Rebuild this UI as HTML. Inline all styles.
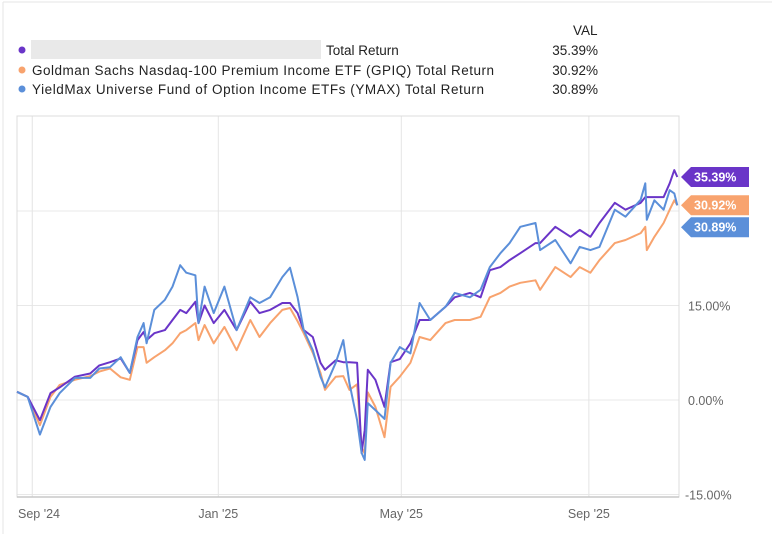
<!DOCTYPE html>
<html><head><meta charset="utf-8">
<style>
body{margin:0;background:#fff;font-family:"Liberation Sans",sans-serif;}
#wrap{position:relative;width:772px;height:534px;overflow:hidden;}
</style></head>
<body>
<div id="wrap">
<svg id="chart" width="772" height="534" xmlns="http://www.w3.org/2000/svg">
  <line x1="3" y1="2" x2="772" y2="2" stroke="#e6e6e6"/>
  <line x1="3" y1="2" x2="3" y2="534" stroke="#e6e6e6"/>
  <g font-size="13.5" fill="#222">
    <text x="573" y="35">VAL</text>
    <circle cx="22" cy="50" r="3.5" fill="#6a35c8"/>
    <rect x="31" y="40" width="290" height="19" fill="#e4e4e4" opacity="0.8"/>
    <text x="326" y="55">Total Return</text>
    <text x="598" y="55" text-anchor="end">35.39%</text>
    <circle cx="22" cy="70" r="3.5" fill="#f8a36e"/>
    <text x="32" y="75" textLength="462">Goldman Sachs Nasdaq-100 Premium Income ETF (GPIQ) Total Return</text>
    <text x="598" y="75" text-anchor="end">30.92%</text>
    <circle cx="22" cy="89" r="3.5" fill="#5b8fd9"/>
    <text x="32" y="94" textLength="452">YieldMax Universe Fund of Option Income ETFs (YMAX) Total Return</text>
    <text x="598" y="94" text-anchor="end">30.89%</text>
  </g>
  <g id="grid"></g>
  <rect x="17" y="116" width="662" height="381" fill="none" stroke="#dcdcdc"/>
  <line x1="17" y1="497" x2="679" y2="497" stroke="#c8c8c8" stroke-width="1.5"/>
  <g id="series"></g>
  <g id="tags"></g>
  <g id="labels" font-size="12.5" fill="#666"></g>
</svg>
</div>
<script>
const days = [0,7,15,22,28,38,48,54,61,68,74,79,83,85,90,97,102,107,111,117,119,123,129,136,144,153,159,166,174,179,184,188,194,199,202,209,214,218,223,226,228,230,235,241,245,251,258,264,271,281,287,297,304,310,317,323,330,340,343,353,363,369,376,382,392,399,409,412,413,418,424,428,431,433];
const purpleVals = [1.3,0.5,-3.2,1.1,2,3.7,4.2,5.5,6,6.6,4.3,9.5,10.8,9.5,10.6,11.1,12.7,14.3,13.8,15.6,12.2,15,12.2,14.3,11.1,15.6,13.8,14.3,15.4,15.4,13.8,11.1,10,5.9,4.8,6.3,6,6,5.9,-8.4,-4.8,4.8,3.2,-1.1,6,6.5,9,12.7,12.7,14.8,16.3,17,16.3,20.6,21.1,22.2,23.3,24.9,24.9,27.5,25.9,27,25.9,28.1,31.3,30.2,31.3,32.2,32.2,32.2,32.2,34.4,36.5,35.39];
const gpiqVals = [1.3,0.5,-4,0.5,2.4,3.2,3.8,4.5,5,3.6,3.2,8.4,8.4,5.9,6.8,7.9,9,10.6,11.1,12.2,9.5,11.9,9,11.6,7.9,12.7,10,12.2,14.3,14.6,12.5,10.6,7.5,4.3,1.6,3.7,3.8,1.6,2.5,-7.5,-8.5,1.2,-1.1,-5.9,2.1,3.7,5.9,10,9.5,12.2,12.7,12.7,13.2,16.3,17,18,18.6,19,17.5,21.1,19.5,21.1,20.2,22.2,24.9,25.4,26.5,27.5,23.8,25.9,28.1,30.2,31.7,30.92];
const ymaxVals = [1.3,0.5,-5.5,-1.1,1.1,3.5,3.5,5,5.2,6.8,4.3,10,12.2,9,14.3,15.9,18,21.4,20.2,19.8,12.2,18,13.8,18,11.1,16.3,15.4,16.3,19.5,21,16.3,11.1,7.9,3.7,2,5.9,9.5,2.7,-3.2,-8.4,-9.5,-0.5,-1.6,-3,5.9,8.4,7.4,15.4,12.7,14.8,17,16.3,17.5,21.1,23.3,24.9,27.5,28.1,23.8,25.4,21.7,24.3,23.8,24.3,30.2,29.1,31.8,34.4,28.6,31.7,30.2,33.3,32.8,30.89];
const yTicks = [-15,0,15,30];
const yTickLabels = ["-15.00%","0.00%","15.00%",""];
const xTickDays = [10,132,252,375];
const xTickLabels = ["Sep '24","Jan '25","May '25","Sep '25"];
const endValues = [35.39,30.92,30.89];
const endLabels = ["35.39%","30.92%","30.89%"];

const NS="http://www.w3.org/2000/svg";
function xs(d){return 17+d*1.525;}
function ys(v){return 400-v*6.3;}
function mk(t,a){const e=document.createElementNS(NS,t);for(const k in a)e.setAttribute(k,a[k]);return e;}
const grid=document.getElementById('grid'),ser=document.getElementById('series'),tags=document.getElementById('tags'),lab=document.getElementById('labels');
yTicks.forEach((t,i)=>{
  const l=mk('line',{x1:17,x2:679,y1:ys(t),y2:ys(t),stroke:'#e8e8e8'});
  
  
  grid.appendChild(l);
  if(yTickLabels[i]){
    const tx=mk('text',{x:t<0?685:688,y:ys(t)+5});
    tx.textContent=yTickLabels[i];
    
    
    lab.appendChild(tx);
  }
});
xTickDays.forEach((d,i)=>{
  const l=mk('line',{x1:xs(d),x2:xs(d),y1:116,y2:497,stroke:'#e4e4e4'});
  
  
  grid.appendChild(l);
  const tx=mk('text',{x:i==0?18:xs(d),y:518,'text-anchor':i==0?'start':'middle'});
  tx.textContent=xTickLabels[i];
  
  
  lab.appendChild(tx);
});
const series=[[gpiqVals,'#f8a36e','line-gpiq'],[purpleVals,'#6a35c8','line-purple'],[ymaxVals,'#5b8fd9','line-ymax']];
series.forEach(s=>{
  const p=mk('polyline',{points:s[0].map((v,i)=>xs(days[i]).toFixed(1)+','+ys(v).toFixed(1)).join(' '),fill:'none',stroke:s[1],'stroke-width':2,'stroke-linejoin':'round'});
  
  
  ser.appendChild(p);
});
const tagColors=['#6a35c8','#f8a36e','#5b8fd9'];
let tagY=[ys(endValues[0]),ys(endValues[1]),ys(endValues[1])+22];
endValues.forEach((v,i)=>{
  const y=tagY[i];
  const poly=mk('polygon',{points:`681,${y} 691,${y-10} 749,${y-10} 749,${y+10} 691,${y+10}`,fill:tagColors[i]});
  
  
  tags.appendChild(poly);
  const t=mk('text',{x:694,y:y+4.5,fill:'#fff','font-size':12.5,'font-weight':'bold'});
  t.textContent=endLabels[i];
  
  
  tags.appendChild(t);
});
</script>
</body></html>
